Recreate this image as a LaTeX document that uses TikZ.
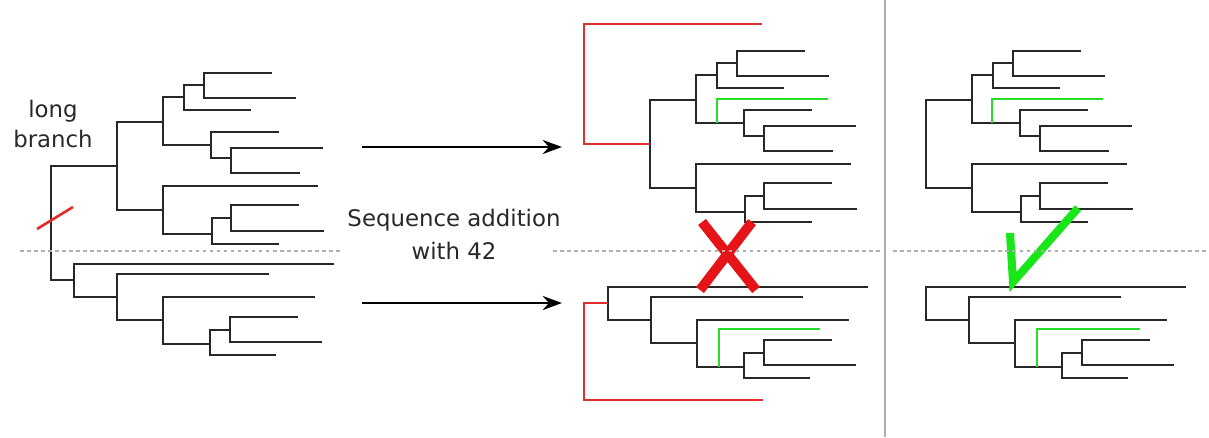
\documentclass[tikz,border=0pt]{standalone}
\usepackage{fontspec}
\setsansfont{DejaVu Sans}
\usepackage{tikz}
\usetikzlibrary{positioning, arrows.meta, calc}
\definecolor{treeInk}{RGB}{40, 40, 40}
\definecolor{treeRed}{RGB}{225, 45, 45}
\definecolor{treeGreen}{RGB}{40, 220, 40}
\definecolor{markRed}{RGB}{230, 20, 25}
\definecolor{markGreen}{RGB}{25, 230, 25}
\definecolor{guideGray}{RGB}{175, 175, 175}

% upper clade, drawn around its root point
\newcommand{\treeUpper}{%
    \draw[branch] (46,-44) -| (0,44) -- (46,44);
    \draw[branch] (67,-69) -| (46,-21) -- (94,-21);
    \draw[branch] (87,-81) -| (67,-56) -- (134,-56);
    \draw[branch] (155,-93) -| (87,-68) -- (179,-68);
    \draw[branch] (162,-34) -| (94,-8) -- (114,-8);
    \draw[branch] (206,-18) -| (114,7) -- (183,7);
    \draw[branch] (201,20) -| (46,68) -- (95,68);
    \draw[branch] (114,52) -| (95,78) -- (162,78);
    \draw[branch] (182,39) -| (114,65) -- (207,65);
}
% lower clade, drawn around its root point
\newcommand{\treeLower}{%
    \draw[branch] (260,-16) -| (0,17) -- (43,17);
    \draw[branch] (195,-6) -| (43,40) -- (89,40);
    \draw[branch] (241,17) -| (89,64) -- (136,64);
    \draw[branch] (156,50) -| (136,75) -- (202,75);
    \draw[branch] (224,37) -| (156,62) -- (248,62);
}

\begin{document}
\begin{tikzpicture}[
    x=0.02cm, y=-0.02cm,
    font=\sffamily\fontsize{13}{17}\selectfont,
    >=Stealth,
    branch/.style={
        draw=treeInk,
        line width=1.1pt
    },
    added/.style={
        draw=treeGreen,
        line width=1.0pt
    },
    longbr/.style={
        draw=treeRed,
        line width=1.1pt
    },
    crossmark/.style={
        draw=markRed,
        line width=5.6pt
    },
    tickmark/.style={
        draw=markGreen,
        line width=4.6pt
    },
    guide/.style={
        draw=guideGray,
        line width=0.6pt,
        dash pattern=on 2pt off 2pt
    },
    divider/.style={
        draw=guideGray,
        line width=1.2pt
    },
    label/.style={
        align=center,
        inner sep=0pt,
        text=treeInk
    },
    arrow/.style={
        draw=black,
        -{Stealth[length=11pt, width=8pt]},
        line width=1.5pt
    }
]
\useasboundingbox (0,0) rectangle (1209,437);

% 1. Input tree (left)
\begin{scope}[shift={(117,166)}]
    \treeUpper
\end{scope}
\begin{scope}[shift={(74,280)}]
    \treeLower
\end{scope}
\draw[branch] (117,166) -| (51,280) -- (74,280);
\draw[longbr, line width=1.5pt] (37,229) -- (73,207);
\node[label, anchor=north] (longlbl) at (53,100) {long\\branch};

% 2. Sequence addition
\coordinate (topfrom) at (362,147);
\coordinate (topto) at (562,147);
\coordinate (botfrom) at (362,303);
\coordinate (botto) at (562,303);
\draw[arrow] (topfrom) -- (topto);
\draw[arrow] (botfrom) -- (botto);
\node[label, anchor=north, font=\sffamily\fontsize{13}{18.5}\selectfont] (seqlbl) at (454,209) {Sequence addition\\with 42};

% 3. Long branch kept (middle)
\begin{scope}[shift={(650,144)}]
    \treeUpper
    \draw[added] (67,-21) |- (178,-45);
\end{scope}
\begin{scope}[shift={(608,303)}]
    \treeLower
    \draw[added] (111,64) |- (212,26);
\end{scope}
\draw[longbr] (762,24) -| (584,144) -- (650,144);
\draw[longbr] (608,303) -| (584,400) -- (763,400);
\draw[crossmark] (702,222) -- (756,290) (752,222) -- (700,290);

% 4. Long branch removed (right)
\draw[divider] (885,0) -- (885,437);
\begin{scope}[shift={(926,144)}]
    \treeUpper
    \draw[added] (66,-21) |- (177,-45);
\end{scope}
\begin{scope}[shift={(926,303)}]
    \treeLower
    \draw[added] (111,64) |- (214,26);
\end{scope}
\draw[tickmark] (1010,233) -- (1013,282) -- (1078,208);

% split between the two halves
\draw[guide] (20,251) -- (343,251);
\draw[guide] (553,251) -- (880,251);
\draw[guide] (893,251) -- (1207,251);

\end{tikzpicture}
\end{document}
